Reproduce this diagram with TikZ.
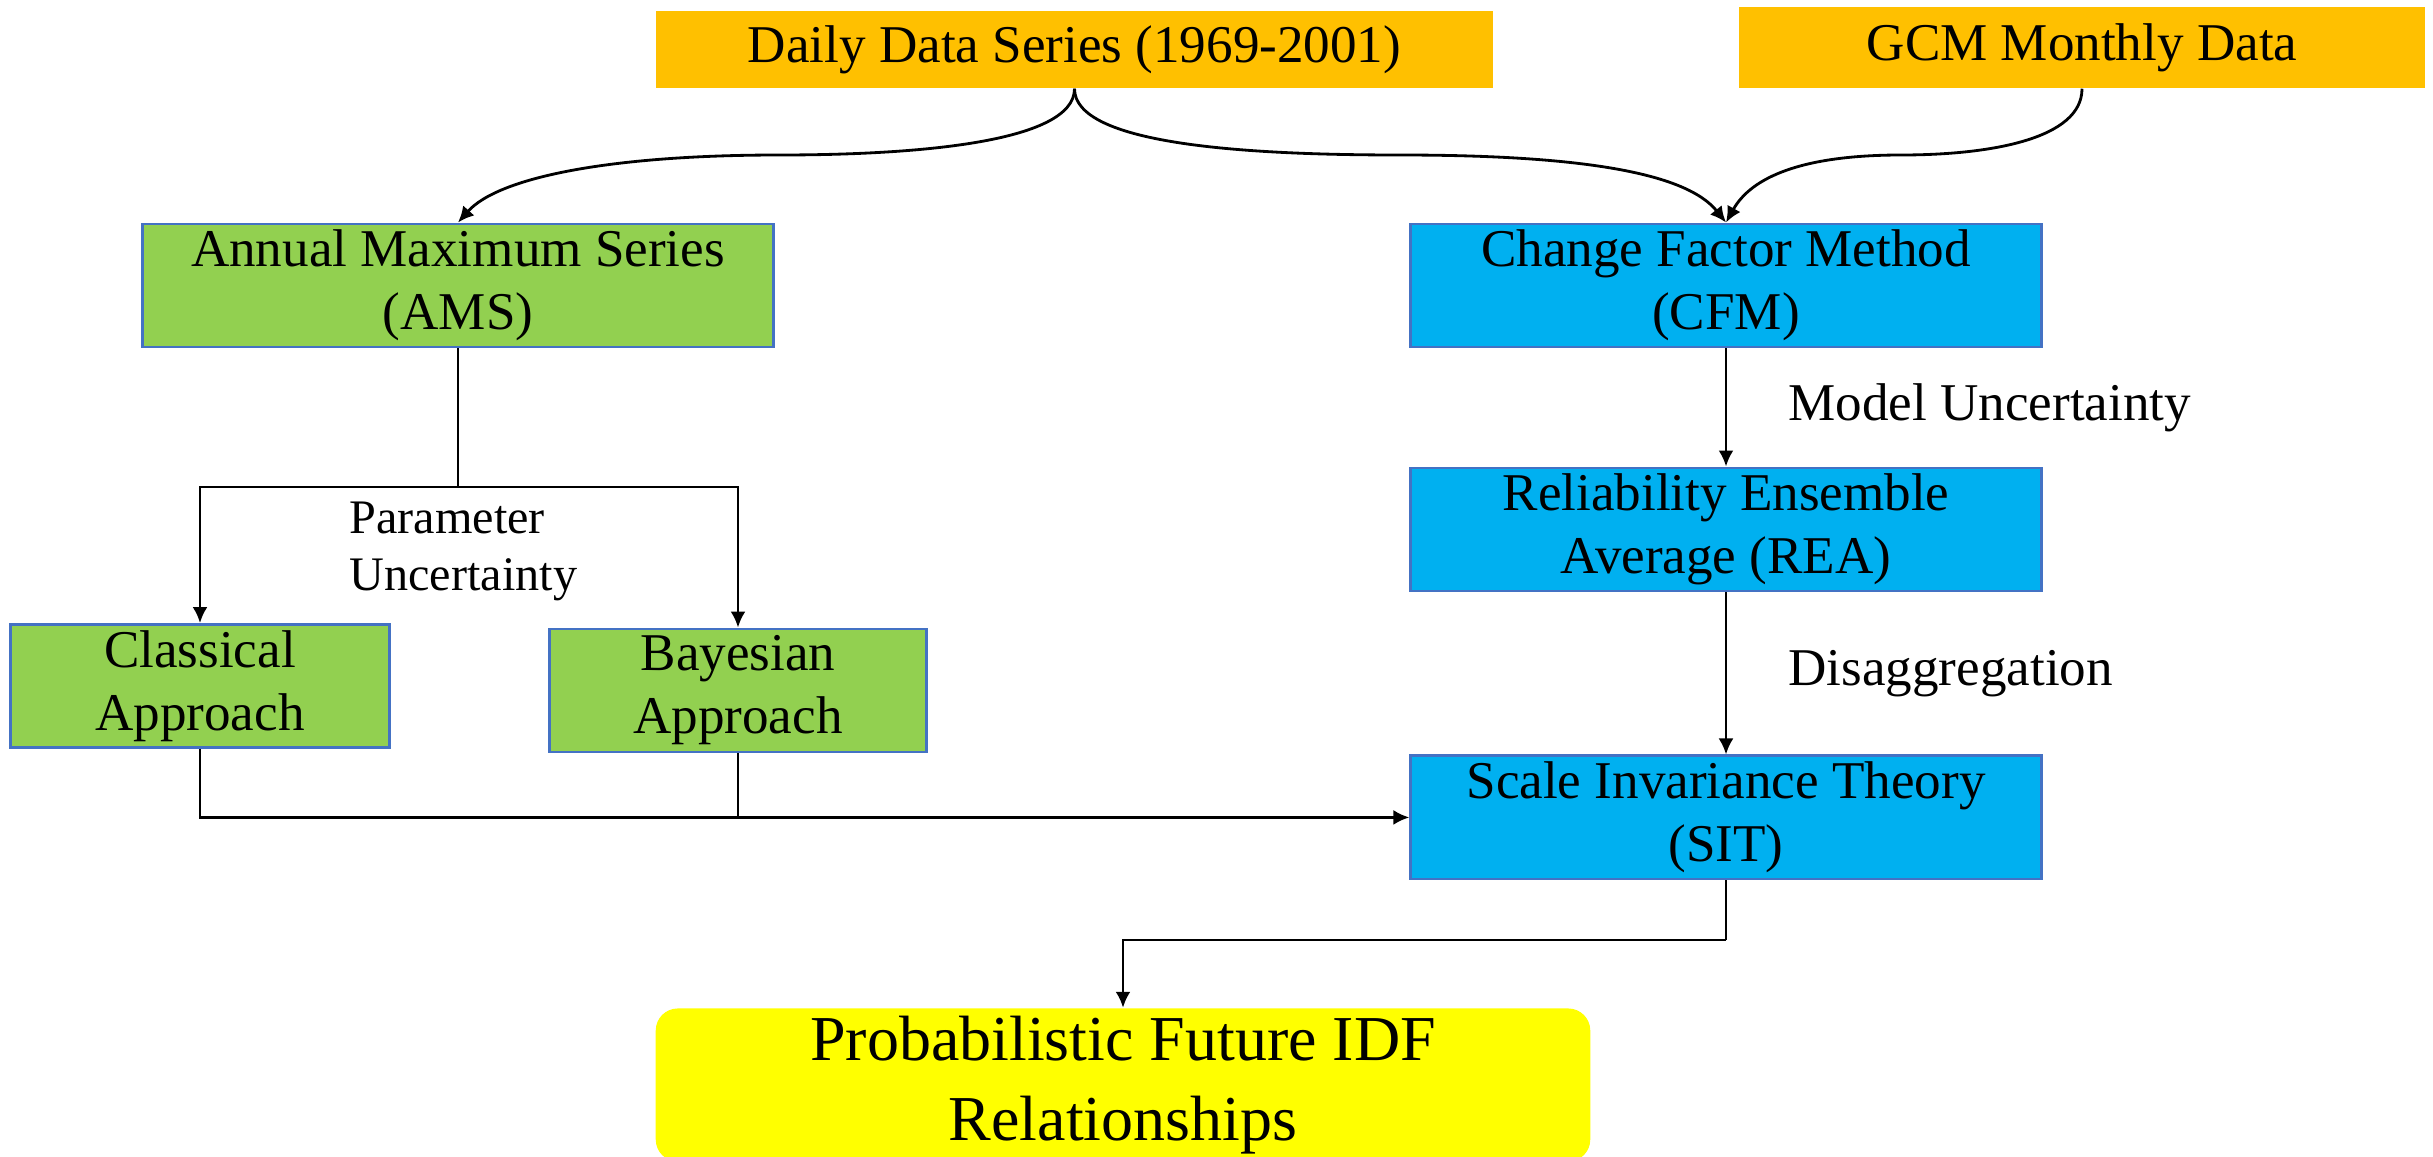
\documentclass[tikz,border=0pt]{standalone}
\usepackage{fontspec}
\setmainfont{Liberation Serif}
\usetikzlibrary{arrows.meta,positioning}

\definecolor{inputOrange}{HTML}{FFC000}
\definecolor{statGreen}{HTML}{92D050}
\definecolor{climBlue}{HTML}{00B0F0}
\definecolor{edgeBlue}{HTML}{4472C4}
\definecolor{outYellow}{HTML}{FFFF00}

\begin{document}
\begin{tikzpicture}[x=0.01cm,y=0.01cm]
                  \tikzset{InputStyle/.style = {fill = inputOrange, inner sep=0pt, align=center,
                                                font=\fontsize{15.1}{17.9}\selectfont},
                           StatStyle/.style  = {fill = statGreen, draw = edgeBlue, line width=0.8pt,
                                                inner sep=0pt, align=center, minimum height=1.23cm,
                                                font=\fontsize{15.1}{17.9}\selectfont},
                           ClimStyle/.style  = {StatStyle, fill = climBlue, minimum width=6.3cm},
                           OutStyle/.style   = {fill = outYellow, rounded corners=0.22cm, inner sep=0pt,
                                                align=center, minimum width=9.34cm, minimum height=1.53cm,
                                                font=\fontsize{18.2}{22.8}\selectfont},
                           NoteStyle/.style  = {inner sep=0pt, font=\fontsize{15.1}{17.9}\selectfont},
                           LinkStyle/.style  = {line width=0.8pt, -{Latex[length=0.16cm,width=0.15cm]}}}
                  \useasboundingbox (0,0) rectangle (2433,1156);
                  % inputs
                  \node[InputStyle, minimum width=8.37cm, minimum height=0.77cm] (daily) at (1074.5,1106.5) {Daily Data Series (1969-2001)};
                  \node[InputStyle, minimum width=6.86cm, minimum height=0.81cm] (gcm) at (2082,1108.5) {GCM Monthly Data};
                  % statistical branch
                  \node[StatStyle, minimum width=6.3cm] (ams) at (458,870.5) {Annual Maximum Series\\(AMS)};
                  \node[StatStyle, minimum width=3.78cm] (classical) at (200,470) {Classical\\Approach};
                  \node[StatStyle, minimum width=3.76cm] (bayes) at (738,465.5) {Bayesian\\Approach};
                  % climate branch
                  \node[ClimStyle] (cfm) at (1726,870.5) {Change Factor Method\\(CFM)};
                  \node[ClimStyle, below=1.18cm of cfm] (rea) {Reliability Ensemble\\Average (REA)};
                  \node[ClimStyle, below=1.62cm of rea] (sit) {Scale Invariance Theory\\(SIT)};
                  \node[OutStyle] (idf) at (1123,71) {Probabilistic Future IDF\\Relationships};
                  \coordinate (lbend) at (779,1001);
                  \coordinate (rbend) at (1400,1001);
                  \coordinate (gbend) at (1901,1001);
                  \coordinate (split) at (458,669);
                  \coordinate (turn) at (1726,216);
                  \draw[LinkStyle] (daily.south) .. controls +(0,-55) and +(130,0) .. (lbend)
                                   .. controls +(-170,0) and +(40,45) .. (ams.north);
                  \draw[LinkStyle] (daily.south) .. controls +(0,-55) and +(-160,0) .. (rbend)
                                   .. controls +(180,0) and +(-40,50) .. (cfm.north);
                  \draw[LinkStyle] (gcm.south) .. controls +(0,-50) and +(90,0) .. (gbend)
                                   .. controls +(-100,0) and +(25,45) .. (cfm.north);
                  \draw[line width=0.8pt] (ams.south) -- (split);
                  \draw[LinkStyle] (split) -| (classical.north);
                  \draw[LinkStyle] (split) -| (bayes.north);
                  \node[NoteStyle, align=left, anchor=west, font=\fontsize{13.7}{16.2}\selectfont] (param) at (349,604.5) {Parameter\\Uncertainty};
                  \draw[LinkStyle] (classical.south) |- (sit.west);
                  \draw[line width=0.8pt] (bayes.south) -- (bayes.south |- sit.west);
                  \draw[LinkStyle] (cfm) -- (rea) node[NoteStyle, midway, right=0.61cm] {Model Uncertainty};
                  \draw[LinkStyle] (rea) -- (sit) node[NoteStyle, midway, right=0.61cm] {Disaggregation};
                  \draw[line width=0.8pt] (sit.south) -- (turn);
                  \draw[LinkStyle] (turn) -| (idf.north);
              \end{tikzpicture}
\end{document}
